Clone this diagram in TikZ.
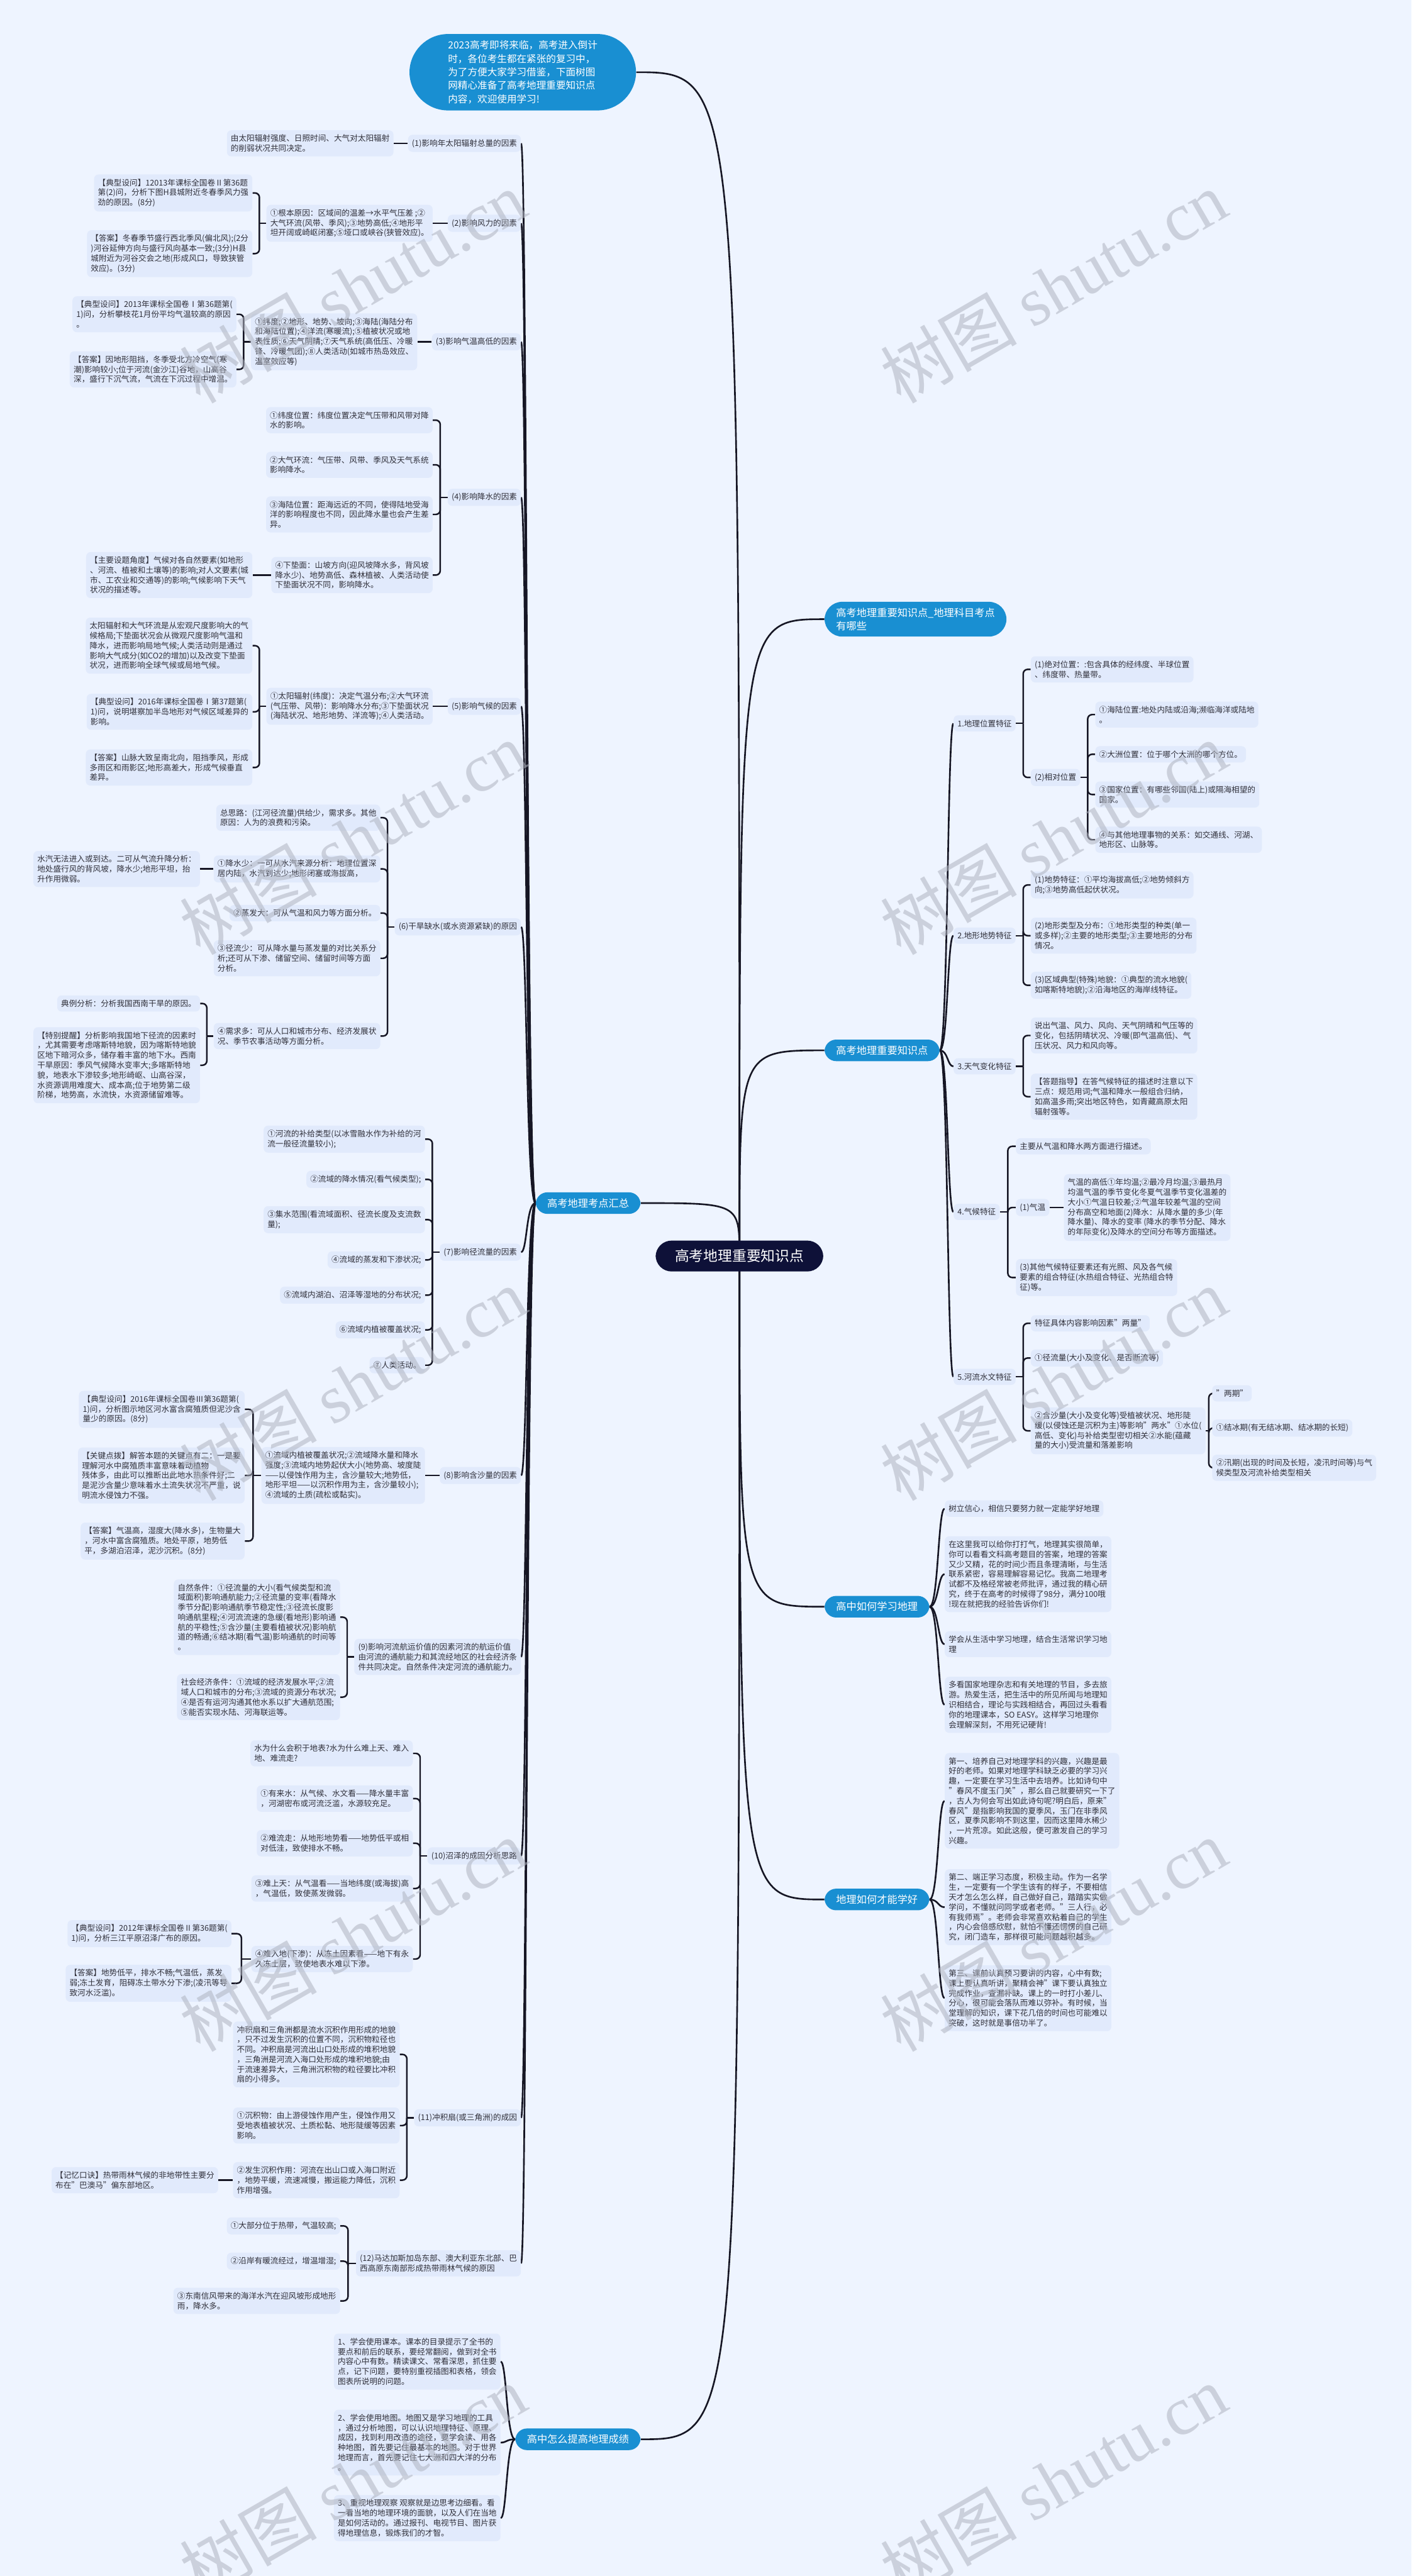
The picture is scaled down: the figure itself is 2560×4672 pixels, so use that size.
\documentclass[tikz,border=0pt]{standalone}
\usepackage{fontspec}
\setmainfont{Noto Sans CJK SC}
\newfontfamily\wmlatin{Liberation Serif}
\usetikzlibrary{calc,positioning}
\definecolor{pageBg}{RGB}{238,244,255}
\definecolor{boxFill}{RGB}{225,234,252}
\definecolor{mapBlue}{RGB}{25,143,210}
\definecolor{mapNavy}{RGB}{14,17,56}
\definecolor{lineDark}{RGB}{22,22,36}
\definecolor{textDark}{RGB}{48,48,58}
\definecolor{wmGray}{RGB}{175,180,192}
\newcommand\fs{\fontsize{7.2pt}{9pt}\selectfont}
% bracket from a parent to its children (left side / right side)
\newcommand\bracketL[3]{%
  \coordinate (jn) at ($(#1.west)!.5!(#2.east)$);
  \draw[link] (#1.west) -- (#1.west -| jn);
  \foreach \c in {#3}{\draw[link] (#1.west -| jn) |- (\c.east);}}
\newcommand\bracketR[3]{%
  \coordinate (jn) at ($(#1.east)!.5!(#2.west)$);
  \draw[link] (#1.east) -- (#1.east -| jn);
  \foreach \c in {#3}{\draw[link] (#1.east -| jn) |- (\c.west);}}
\pgfdeclarelayer{back}
\pgfdeclarelayer{edges}
\pgfsetlayers{back,edges,main}

\begin{document}
\begin{tikzpicture}[x=0.5pt,y=-0.5pt,
    box/.style={fill=boxFill,rounded corners=4pt,inner xsep=3.5pt,inner ysep=4pt,align=left,font=\fs,text=textDark},
    topic/.style={fill=mapBlue,text=white,rounded corners=10.5pt,inner xsep=10.5pt,inner ysep=5.5pt,align=left,font=\fontsize{9.25pt}{12pt}\selectfont},
    rootnode/.style={fill=mapNavy,text=white,rounded corners=14.5pt,inner xsep=17.5pt,inner ysep=8pt,font=\fontsize{13pt}{15pt}\selectfont},
    link/.style={draw=lineDark,line width=1.4pt,rounded corners=4pt},
    trunk/.style={draw=lineDark,line width=1.5pt},
    wm/.style={rotate=30,text=wmGray,opacity=.55,font=\fontsize{62pt}{62pt}\selectfont}
  ]
  \useasboundingbox (0,0) rectangle (2560,4672);
  \begin{pgfonlayer}{back}
    \fill[pageBg] (0,0) rectangle (2560,4672);
  \end{pgfonlayer}

  % root and main topics
  \node[rootnode] (root) at (1341,2278) {高考地理重要知识点};
  \node[topic,anchor=center,rounded corners=35pt,inner xsep=35pt,inner ysep=6pt,font=\fontsize{8.9pt}{12.2pt}\selectfont] (top) at (948,131)
    {2023高考即将来临，高考进入倒计\\时，各位考生都在紧张的复习中，\\为了方便大家学习借鉴，下面树图\\网精心准备了高考地理重要知识点\\内容，欢迎使用学习!};
  \node[topic,anchor=east] (sum) at (1162,2182) {高考地理考点汇总};
  \node[topic,anchor=east] (tips) at (1162,4424) {高中怎么提高地理成绩};
  \node[topic,anchor=west,rounded corners=16pt] (k1) at (1495,1123) {高考地理重要知识点\_地理科目考点\\有哪些};
  \node[topic,anchor=west] (k2) at (1495,1905) {高考地理重要知识点};
  \node[topic,anchor=west] (k3) at (1495,2914) {高中如何学习地理};
  \node[topic,anchor=west] (k4) at (1495,3445) {地理如何才能学好};

  % (1)-(12) factors
  \node[box,anchor=east] (f1) at (945,260) {(1)影响年太阳辐射总量的因素};
  \node[box,anchor=east] (f1a) at (714,260) {由太阳辐射强度、日照时间、大气对太阳辐射\\的削弱状况共同决定。};

  \node[box,anchor=east] (f2) at (945,405) {(2)影响风力的因素};
  \node[box,anchor=east] (f2a) at (785,405) {①根本原因：区域间的温差→水平气压差 ;②\\大气环流(风带、季风);③地势高低;④地形平\\坦开阔或崎岖闭塞;⑤垭口或峡谷(狭管效应)。};
  \node[box,anchor=east] (f2a1) at (458,350) {【典型设问】12013年课标全国卷Ⅱ第36题\\第(2)问，分析下图H县城附近冬春季风力强\\劲的原因。(8分)};
  \node[box,anchor=east] (f2a2) at (458,460) {【答案】冬春季节盛行西北季风(偏北风);(2分\\)河谷延伸方向与盛行风向基本一致;(3分)H县\\城附近为河谷交会之地(形成风口，导致狭管\\效应)。(3分)};

  \node[box,anchor=east] (f3) at (945,620) {(3)影响气温高低的因素};
  \node[box,anchor=east] (f3a) at (757,620) {①纬度;②地形、地势、坡向;③海陆(海陆分布\\和海陆位置);④洋流(寒暖流);⑤植被状况或地\\表性质;⑥天气阴晴;⑦天气系统(高低压、冷暖\\锋、冷暖气团);⑧人类活动(如城市热岛效应、\\温室效应等)};
  \node[box,anchor=east] (f3a1) at (429,570) {【典型设问】2013年课标全国卷Ⅰ第36题第(\\1)问，分析攀枝花1月份平均气温较高的原因\\。};
  \node[box,anchor=east] (f3a2) at (429,670) {【答案】因地形阻挡，冬季受北方冷空气(寒\\潮)影响较小;位于河流(金沙江)谷地，山高谷\\深，盛行下沉气流，气流在下沉过程中增温。};

  \node[box,anchor=east] (f4) at (945,902) {(4)影响降水的因素};
  \node[box,anchor=east] (f4a) at (785,762) {①纬度位置：纬度位置决定气压带和风带对降\\水的影响。};
  \node[box,anchor=east] (f4b) at (785,843) {②大气环流：气压带、风带、季风及天气系统\\影响降水。};
  \node[box,anchor=east] (f4c) at (785,933) {③海陆位置：距海远近的不同，使得陆地受海\\洋的影响程度也不同，因此降水量也会产生差\\异。};
  \node[box,anchor=east] (f4d) at (785,1043) {④下垫面：山坡方向(迎风坡降水多，背风坡\\降水少)、地势高低、森林植被、人类活动使\\下垫面状况不同，影响降水。};
  \node[box,anchor=east] (f4d1) at (458,1043) {【主要设题角度】气候对各自然要素(如地形\\、河流、植被和土壤等)的影响;对人文要素(城\\市、工农业和交通等)的影响;气候影响下天气\\状况的描述等。};

  \node[box,anchor=east] (f5) at (945,1281) {(5)影响气候的因素};
  \node[box,anchor=east] (f5a) at (785,1281) {①太阳辐射(纬度)：决定气温分布;②大气环流\\(气压带、风带)：影响降水分布;③下垫面状况\\(海陆状况、地形地势、洋流等);④人类活动。};
  \node[box,anchor=east] (f5a1) at (458,1171) {太阳辐射和大气环流是从宏观尺度影响大的气\\候格局;下垫面状况会从微观尺度影响气温和\\降水，进而影响局地气候;人类活动则是通过\\影响大气成分(如CO2的增加)以及改变下垫面\\状况，进而影响全球气候或局地气候。};
  \node[box,anchor=east] (f5a2) at (458,1291) {【典型设问】2016年课标全国卷Ⅰ第37题第(\\1)问，说明堪察加半岛地形对气候区域差异的\\影响。};
  \node[box,anchor=east] (f5a3) at (458,1392) {【答案】山脉大致呈南北向，阻挡季风，形成\\多雨区和雨影区;地形高差大，形成气候垂直\\差异。};

  \node[box,anchor=east] (f6) at (945,1681) {(6)干旱缺水(或水资源紧缺)的原因};
  \node[box,anchor=east] (f6a) at (690,1483) {总思路：(江河径流量)供给少，需求多。其他\\原因：人为的浪费和污染。};
  \node[box,anchor=east] (f6b) at (690,1576) {①降水少：一可从水汽来源分析：地理位置深\\居内陆，水汽到达少;地形闭塞或海拔高，};
  \node[box,anchor=east] (f6b1) at (363,1576) {水汽无法进入或到达。二可从气流升降分析：\\地处盛行风的背风坡，降水少;地形平坦，抬\\升作用微弱。};
  \node[box,anchor=east] (f6c) at (690,1656) {②蒸发大：可从气温和风力等方面分析。};
  \node[box,anchor=east] (f6d) at (690,1738) {③径流少：可从降水量与蒸发量的对比关系分\\析;还可从下渗、储留空间、储留时间等方面\\分析。};
  \node[box,anchor=east] (f6e) at (690,1879) {④需求多：可从人口和城市分布、经济发展状\\况、季节农事活动等方面分析。};
  \node[box,anchor=east] (f6e1) at (363,1820) {典例分析：分析我国西南干旱的原因。};
  \node[box,anchor=east] (f6e2) at (363,1932) {【特别提醒】分析影响我国地下径流的因素时\\，尤其需要考虑喀斯特地貌，因为喀斯特地貌\\区地下暗河众多，储存着丰富的地下水。西南\\干旱原因：季风气候降水变率大;多喀斯特地\\貌，地表水下渗较多;地形崎岖、山高谷深，\\水资源调用难度大、成本高;位于地势第二级\\阶梯，地势高，水流快，水资源储留难等。};

  \node[box,anchor=east] (f7) at (945,2271) {(7)影响径流量的因素};
  \node[box,anchor=east] (f7a) at (771,2066) {①河流的补给类型(以冰雪融水作为补给的河\\流一般径流量较小);};
  \node[box,anchor=east] (f7b) at (771,2139) {②流域的降水情况(看气候类型);};
  \node[box,anchor=east] (f7c) at (771,2212) {③集水范围(看流域面积、径流长度及支流数\\量);};
  \node[box,anchor=east] (f7d) at (771,2285) {④流域的蒸发和下渗状况;};
  \node[box,anchor=east] (f7e) at (771,2349) {⑤流域内湖泊、沼泽等湿地的分布状况;};
  \node[box,anchor=east] (f7f) at (771,2412) {⑥流域内植被覆盖状况;};
  \node[box,anchor=east] (f7g) at (771,2476) {⑦人类活动。};

  \node[box,anchor=east] (f8) at (945,2676) {(8)影响含沙量的因素};
  \node[box,anchor=east] (f8a) at (771,2676) {①流域内植被覆盖状况;②流域降水量和降水\\强度;③流域内地势起伏大小(地势高、坡度陡\\——以侵蚀作用为主，含沙量较大;地势低，\\地形平坦——以沉积作用为主，含沙量较小);\\④流域的土质(疏松或黏实)。};
  \node[box,anchor=east] (f8a1) at (444,2556) {【典型设问】2016年课标全国卷Ⅲ第36题第(\\1)问，分析图示地区河水富含腐殖质但泥沙含\\量少的原因。(8分)};
  \node[box,anchor=east] (f8a2) at (444,2676) {【关键点拨】解答本题的关键点有二：一是要\\理解河水中腐殖质丰富意味着动植物\\残体多，由此可以推断出此地水热条件好;二\\是泥沙含量少意味着水土流失状况不严重，说\\明流水侵蚀力不强。};
  \node[box,anchor=east] (f8a3) at (444,2795) {【答案】气温高，湿度大(降水多)，生物量大\\，河水中富含腐殖质。地处平原，地势低\\平，多湖泊沼泽，泥沙沉积。(8分)};

  \node[box,anchor=east] (f9) at (945,3005) {(9)影响河流航运价值的因素河流的航运价值\\由河流的通航能力和其流经地区的社会经济条\\件共同决定。自然条件决定河流的通航能力。};
  \node[box,anchor=east] (f9a) at (617,2933) {自然条件：①径流量的大小(看气候类型和流\\域面积)影响通航能力;②径流量的变率(看降水\\季节分配)影响通航季节稳定性;③径流长度影\\响通航里程;④河流流速的急缓(看地形)影响通\\航的平稳性;⑤含沙量(主要看植被状况)影响航\\道的畅通;⑥结冰期(看气温)影响通航的时间等\\。};
  \node[box,anchor=east] (f9b) at (617,3078) {社会经济条件：①流域的经济发展水平;②流\\域人口和城市的分布;③流域的资源分布状况;\\④是否有运河沟通其他水系以扩大通航范围;\\⑤能否实现水陆、河海联运等。};

  \node[box,anchor=east] (f10) at (945,3366) {(10)沼泽的成因分析思路};
  \node[box,anchor=east] (f10a) at (749,3180) {水为什么会积于地表?水为什么难上天、难入\\地、难流走?};
  \node[box,anchor=east] (f10b) at (749,3262) {①有来水：从气候、水文看——降水量丰富\\，河湖密布或河流泛滥，水源较充足。};
  \node[box,anchor=east] (f10c) at (749,3343) {②难流走：从地形地势看——地势低平或相\\对低洼，致使排水不畅。};
  \node[box,anchor=east] (f10d) at (749,3425) {③难上天：从气温看——当地纬度(或海拔)高\\，气温低，致使蒸发微弱。};
  \node[box,anchor=east] (f10e) at (749,3553) {④难入地(下渗)：从冻土因素看——地下有永\\久冻土层，致使地表水难以下渗。};
  \node[box,anchor=east] (f10e1) at (420,3507) {【典型设问】2012年课标全国卷Ⅱ第36题第(\\1)问，分析三江平原沼泽广布的原因。};
  \node[box,anchor=east] (f10e2) at (420,3597) {【答案】地势低平，排水不畅;气温低，蒸发\\弱;冻土发育，阻碍冻土带水分下渗;(凌汛等导\\致河水泛滥)。};

  \node[box,anchor=east] (f11) at (945,3841) {(11)冲积扇(或三角洲)的成因};
  \node[box,anchor=east] (f11a) at (725,3726) {冲积扇和三角洲都是流水沉积作用形成的地貌\\，只不过发生沉积的位置不同，沉积物粒径也\\不同。冲积扇是河流出山口处形成的堆积地貌\\，三角洲是河流入海口处形成的堆积地貌;由\\于流速差异大，三角洲沉积物的粒径要比冲积\\扇的小得多。};
  \node[box,anchor=east] (f11b) at (725,3855) {①沉积物：由上游侵蚀作用产生，侵蚀作用又\\受地表植被状况、土质松黏、地形陡缓等因素\\影响。};
  \node[box,anchor=east] (f11c) at (725,3954) {②发生沉积作用：河流在出山口或入海口附近\\，地势平缓，流速减慢，搬运能力降低，沉积\\作用增强。};
  \node[box,anchor=east] (f11c1) at (396,3954) {【记忆口诀】热带雨林气候的非地带性主要分\\布在"巴澳马"偏东部地区。};

  \node[box,anchor=east] (f12) at (945,4105) {(12)马达加斯加岛东部、澳大利亚东北部、巴\\西高原东南部形成热带雨林气候的原因};
  \node[box,anchor=east] (f12a) at (617,4037) {①大部分位于热带，气温较高;};
  \node[box,anchor=east] (f12b) at (617,4101) {②沿岸有暖流经过，增温增湿;};
  \node[box,anchor=east] (f12c) at (617,4173) {③东南信风带来的海洋水汽在迎风坡形成地形\\雨，降水多。};

  % how to improve
  \node[box,anchor=east] (t1) at (908,4283) {1、学会使用课本。课本的目录提示了全书的\\要点和前后的联系，要经常翻阅，做到对全书\\内容心中有数。精读课文、常看深思，抓住要\\点，记下问题，要特别重视插图和表格，领会\\图表所说明的问题。};
  \node[box,anchor=east] (t2) at (908,4430) {2、学会使用地图。地图又是学习地理的工具\\，通过分析地图，可以认识地理特征、原理、\\成因，找到利用改造的途径，要学会读、用各\\种地图，首先要记住最基本的地图。对于世界\\地理而言，首先要记住七大洲和四大洋的分布\\。};
  \node[box,anchor=east] (t3) at (908,4567) {3、重视地理观察 观察就是边思考边细看。看\\一看当地的地理环境的面貌，以及人们在当地\\是如何活动的。通过报刊、电视节目、图片获\\得地理信息，锻炼我们的才智。};

  % right side: features
  \node[box,anchor=west] (g1) at (1729,1312) {1.地理位置特征};
  \node[box,anchor=west] (g1a) at (1869,1214) {(1)绝对位置：:包含具体的经纬度、半球位置\\、纬度带、热量带。};
  \node[box,anchor=west] (g1b) at (1869,1410) {(2)相对位置};
  \node[box,anchor=west] (g1b1) at (1986,1296) {①海陆位置:地处内陆或沿海;濒临海洋或陆地\\。};
  \node[box,anchor=west] (g1b2) at (1986,1368) {②大洲位置：位于哪个大洲的哪个方位。};
  \node[box,anchor=west] (g1b3) at (1986,1441) {③国家位置：有哪些邻国(陆上)或隔海相望的\\国家。};
  \node[box,anchor=west] (g1b4) at (1986,1523) {④与其他地理事物的关系：如交通线、河湖、\\地形区、山脉等。};

  \node[box,anchor=west] (g2) at (1729,1697) {2.地形地势特征};
  \node[box,anchor=west] (g2a) at (1869,1605) {(1)地势特征：①平均海拔高低;②地势倾斜方\\向;③地势高低起伏状况。};
  \node[box,anchor=west] (g2b) at (1869,1697) {(2)地形类型及分布：①地形类型的种类(单一\\或多样);②主要的地形类型;③主要地形的分布\\情况。};
  \node[box,anchor=west] (g2c) at (1869,1787) {(3)区域典型(特殊)地貌：①典型的流水地貌(\\如喀斯特地貌);②沿海地区的海岸线特征。};

  \node[box,anchor=west] (g3) at (1729,1934) {3.天气变化特征};
  \node[box,anchor=west] (g3a) at (1869,1878) {说出气温、风力、风向、天气阴晴和气压等的\\变化，包括阴晴状况、冷暖(即气温高低)、气\\压状况、风力和风向等。};
  \node[box,anchor=west] (g3b) at (1869,1989) {【答题指导】在答气候特征的描述时注意以下\\三点：规范用词;气温和降水一般组合归纳，\\如高温多雨;突出地区特色，如青藏高原太阳\\辐射强等。};

  \node[box,anchor=west] (g4) at (1729,2198) {4.气候特征};
  \node[box,anchor=west] (g4a) at (1842,2079) {主要从气温和降水两方面进行描述。};
  \node[box,anchor=west] (g4b) at (1842,2190) {(1)气温};
  \node[box,anchor=west] (g4b1) at (1929,2190) {气温的高低①年均温;②最冷月均温;③最热月\\均温气温的季节变化冬夏气温季节变化温差的\\大小①气温日较差;②气温年较差气温的空间\\分布高空和地面(2)降水：从降水量的多少(年\\降水量)、降水的变率 (降水的季节分配、降水\\的年际变化)及降水的空间分布等方面描述。};
  \node[box,anchor=west] (g4c) at (1842,2317) {(3)其他气候特征要素还有光照、风及各气候\\要素的组合特征(水热组合特征、光热组合特\\征)等。};

  \node[box,anchor=west] (g5) at (1729,2497) {5.河流水文特征};
  \node[box,anchor=west] (g5a) at (1869,2400) {特征具体内容影响因素"两量"};
  \node[box,anchor=west] (g5b) at (1869,2463) {①径流量(大小及变化、是否断流等)};
  \node[box,anchor=west] (g5c) at (1869,2595) {②含沙量(大小及变化等)受植被状况、地形陡\\缓(以侵蚀还是沉积为主)等影响"两水"①水位(\\高低、变化)与补给类型密切相关②水能(蕴藏\\量的大小)受流量和落差影响};
  \node[box,anchor=west] (g5c1) at (2198,2527) {"两期"};
  \node[box,anchor=west] (g5c2) at (2198,2590) {①结冰期(有无结冰期、结冰期的长短)};
  \node[box,anchor=west] (g5c3) at (2198,2662) {②汛期(出现的时间及长短，凌汛时间等)与气\\候类型及河流补给类型相关};

  % right side: study advice
  \node[box,anchor=west] (h1) at (1713,2736) {树立信心，相信只要努力就一定能学好地理};
  \node[box,anchor=west] (h2) at (1713,2855) {在这里我可以给你打打气，地理其实很简单，\\你可以看看文科高考题目的答案，地理的答案\\又少又精，花的时间少而且条理清晰，与生活\\联系紧密，容易理解容易记忆。我高二地理考\\试都不及格经常被老师批评，通过我的精心研\\究，终于在高考的时候得了98分，满分100哦\\!现在就把我的经验告诉你们!};
  \node[box,anchor=west] (h3) at (1713,2982) {学会从生活中学习地理，结合生活常识学习地\\理};
  \node[box,anchor=west] (h4) at (1713,3092) {多看国家地理杂志和有关地理的节目，多去旅\\游。热爱生活，把生活中的所见所闻与地理知\\识相结合，理论与实践相结合，再回过头看看\\你的地理课本，SO EASY。这样学习地理你\\会理解深刻，不用死记硬背!};

  \node[box,anchor=west] (w1) at (1713,3266) {第一、培养自己对地理学科的兴趣，兴趣是最\\好的老师。如果对地理学科缺乏必要的学习兴\\趣，一定要在学习生活中去培养。比如诗句中\\"春风不度玉门关"，那么自己就要研究一下了\\，古人为何会写出如此诗句呢?明白后，原来"\\春风"是指影响我国的夏季风，玉门在非季风\\区，夏季风影响不到这里，因而这里降水稀少\\，一片荒凉。如此这般，便可激发自己的学习\\兴趣。};
  \node[box,anchor=west] (w2) at (1713,3459) {第二、端正学习态度，积极主动。作为一名学\\生，一定要有一个学生该有的样子，不要相信\\天才怎么怎么样，自己做好自己，踏踏实实做\\学问，不懂就问同学或者老师。"三人行，必\\有我师焉"。老师会非常喜欢粘着自己的学生\\，内心会倍感欣慰，就怕不懂还愣愣的自己研\\究，闭门造车，那样很可能问题越积越多。};
  \node[box,anchor=west] (w3) at (1713,3624) {第三、课前认真预习要讲的内容，心中有数;\\课上要认真听讲，聚精会神"课下要认真独立\\完成作业，查漏补缺。课上的一时打小差儿、\\分心，很可能会落队而难以弥补。有时候，当\\堂理解的知识，课下花几倍的时间也可能难以\\突破，这时就是事倍功半了。};

  % connectors
  \begin{pgfonlayer}{edges}
    \foreach \c in {top,sum,tips}
      \draw[trunk] (root.center) .. controls (root.center |- \c.east) .. (\c.east);
    \foreach \c in {k1,k2,k3,k4}
      \draw[trunk] (root.center) .. controls (root.center |- \c.west) .. (\c.west);
    \foreach \c in {f1,f2,f3,f4,f5,f6,f7,f8,f9,f10,f11,f12}
      \draw[trunk] (sum.west) .. controls +(-17,0) and +(11,0) .. (\c.east);
    \foreach \c in {t1,t2,t3}
      \draw[trunk] (tips.west) .. controls +(-16,0) and +(11,0) .. (\c.east);
    \foreach \c in {g1,g2,g3,g4,g5}
      \draw[trunk] (k2.east) .. controls +(15,0) and +(-11,0) .. (\c.west);
    \foreach \c in {h1,h2,h3,h4}
      \draw[trunk] (k3.east) .. controls +(16,0) and +(-12,0) .. (\c.west);
    \foreach \c in {w1,w2,w3}
      \draw[trunk] (k4.east) .. controls +(16,0) and +(-12,0) .. (\c.west);

    \draw[link] (f1.west) -- (f1a.east);
    \draw[link] (f2.west) -- (f2a.east);
    \bracketL{f2a}{f2a1}{f2a1,f2a2}
    \draw[link] (f3.west) -- (f3a.east);
    \bracketL{f3a}{f3a1}{f3a1,f3a2}
    \bracketL{f4}{f4a}{f4a,f4b,f4c,f4d}
    \draw[link] (f4d.west) -- (f4d1.east);
    \draw[link] (f5.west) -- (f5a.east);
    \bracketL{f5a}{f5a1}{f5a1,f5a2,f5a3}
    \bracketL{f6}{f6a}{f6a,f6b,f6c,f6d,f6e}
    \draw[link] (f6b.west) -- (f6b1.east);
    \bracketL{f6e}{f6e1}{f6e1,f6e2}
    \bracketL{f7}{f7a}{f7a,f7b,f7c,f7d,f7e,f7f,f7g}
    \draw[link] (f8.west) -- (f8a.east);
    \bracketL{f8a}{f8a1}{f8a1,f8a2,f8a3}
    \bracketL{f9}{f9a}{f9a,f9b}
    \bracketL{f10}{f10a}{f10a,f10b,f10c,f10d,f10e}
    \bracketL{f10e}{f10e1}{f10e1,f10e2}
    \bracketL{f11}{f11a}{f11a,f11b,f11c}
    \draw[link] (f11c.west) -- (f11c1.east);
    \bracketL{f12}{f12a}{f12a,f12b,f12c}

    \bracketR{g1}{g1a}{g1a,g1b}
    \bracketR{g1b}{g1b1}{g1b1,g1b2,g1b3,g1b4}
    \bracketR{g2}{g2a}{g2a,g2b,g2c}
    \bracketR{g3}{g3a}{g3a,g3b}
    \bracketR{g4}{g4a}{g4a,g4b,g4c}
    \draw[link] (g4b.east) -- (g4b1.west);
    \bracketR{g5}{g5a}{g5a,g5b,g5c}
    \bracketR{g5c}{g5c1}{g5c1,g5c2,g5c3}
  \end{pgfonlayer}

  % watermark
  \foreach \wx in {640,1910}
    \foreach \wy in {520,1520,2510,3510,4500}
      \node[wm] (mark\wx\wy) at (\wx,\wy) {树图 {\wmlatin shutu.cn}};
\end{tikzpicture}
\end{document}
